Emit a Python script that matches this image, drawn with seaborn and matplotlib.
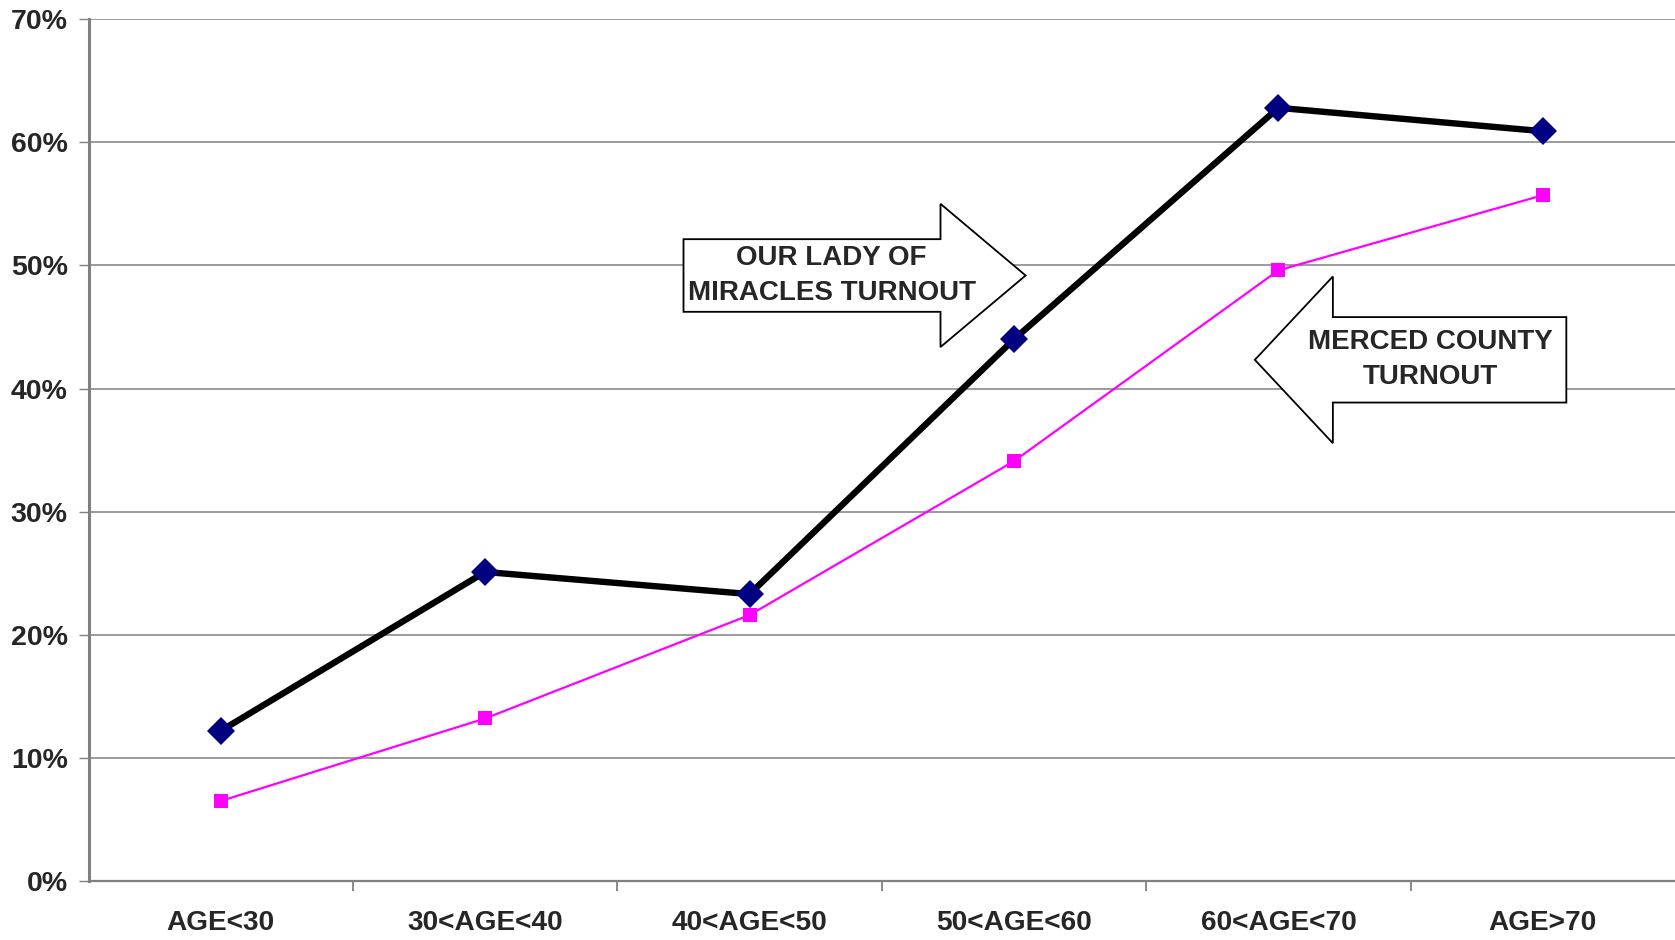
import pandas as pd
import seaborn as sns
import matplotlib.pyplot as plt
from matplotlib.patches import Polygon

ages = ['AGE<30', '30<AGE<40', '40<AGE<50', '50<AGE<60', '60<AGE<70', 'AGE>70']
parish_turnout = [0.122, 0.251, 0.233, 0.440, 0.628, 0.609]
county_turnout = [0.065, 0.132, 0.216, 0.341, 0.496, 0.557]
y_ticks = [0, 0.1, 0.2, 0.3, 0.4, 0.5, 0.6, 0.7]

sns.set_theme(style='white')
plt.rcParams['font.family'] = ['Liberation Sans', 'DejaVu Sans']
plt.rcParams['font.weight'] = 'bold'

df = pd.DataFrame({'age': list(range(len(ages))) * 2,
                   'turnout': parish_turnout + county_turnout,
                   'group': ['parish'] * len(ages) + ['county'] * len(ages)})

fig = plt.figure(figsize=(16.75, 9.4), dpi=100)
ax = fig.add_axes([0.0529, 0.0628, 0.9471, 0.9168])

sns.lineplot(data=df[df.group == 'county'], x='age', y='turnout', ax=ax,
             color='#FF00FF', lw=1.6, marker='s', markersize=10.5,
             markeredgewidth=0, markerfacecolor='#FF00FF', sort=False, zorder=3)
sns.lineplot(data=df[df.group == 'parish'], x='age', y='turnout', ax=ax,
             color='black', lw=4.6, marker='D', markersize=14.5,
             markeredgewidth=0, markerfacecolor='#000080', sort=False, zorder=4)

ax.set_xlim(-0.5, len(ages) - 0.5)
ax.set_ylim(0, 0.7)
ax.set_yticks(y_ticks)
ax.set_yticklabels([f'{int(round(v * 100))}%' for v in y_ticks], fontsize=20.5, fontweight='bold')
ax.set_xticks([i + 0.5 for i in range(len(ages) - 1)])
ax.set_xticklabels([])
ax.set_xticks(range(len(ages)), minor=True)
ax.set_xticklabels(ages, minor=True, fontsize=20.2, fontweight='bold')
ax.tick_params(axis='x', which='major', direction='out', length=7, width=1.3, color='#808080', bottom=True)
ax.tick_params(axis='x', which='minor', length=0, pad=21)
ax.tick_params(axis='y', direction='out', length=7, width=1, color='#808080', left=True, pad=8)
ax.set_xlabel('')
ax.set_ylabel('')

ax.grid(axis='y', color='#808080', lw=1.1)
ax.set_axisbelow(True)
for s in ['top', 'right']:
    ax.spines[s].set_visible(False)
ax.spines['left'].set_color('#808080')
ax.spines['left'].set_linewidth(2.2)
ax.spines['bottom'].set_color('#808080')
ax.spines['bottom'].set_linewidth(1.6)

# arrow callouts
right_arrow = [(1.75, 0.5213), (2.722, 0.5213), (2.722, 0.550), (3.044, 0.4918),
               (2.722, 0.4337), (2.722, 0.4623), (1.75, 0.4623)]
ax.add_patch(Polygon(right_arrow, closed=True, facecolor='white', edgecolor='black', lw=1.3, zorder=5))
ax.text(2.31, 0.4918, 'OUR LADY OF\nMIRACLES TURNOUT', ha='center', va='center',
        fontsize=20, fontweight='bold', linespacing=1.45, zorder=6)

left_arrow = [(3.911, 0.4233), (4.206, 0.491), (4.206, 0.458), (5.089, 0.458),
              (5.089, 0.3886), (4.206, 0.3886), (4.206, 0.3556)]
ax.add_patch(Polygon(left_arrow, closed=True, facecolor='white', edgecolor='black', lw=1.3, zorder=5))
ax.text(4.575, 0.4233, 'MERCED COUNTY\nTURNOUT', ha='center', va='center',
        fontsize=20, fontweight='bold', linespacing=1.45, zorder=6)

fig.savefig('out.png', dpi=100)
